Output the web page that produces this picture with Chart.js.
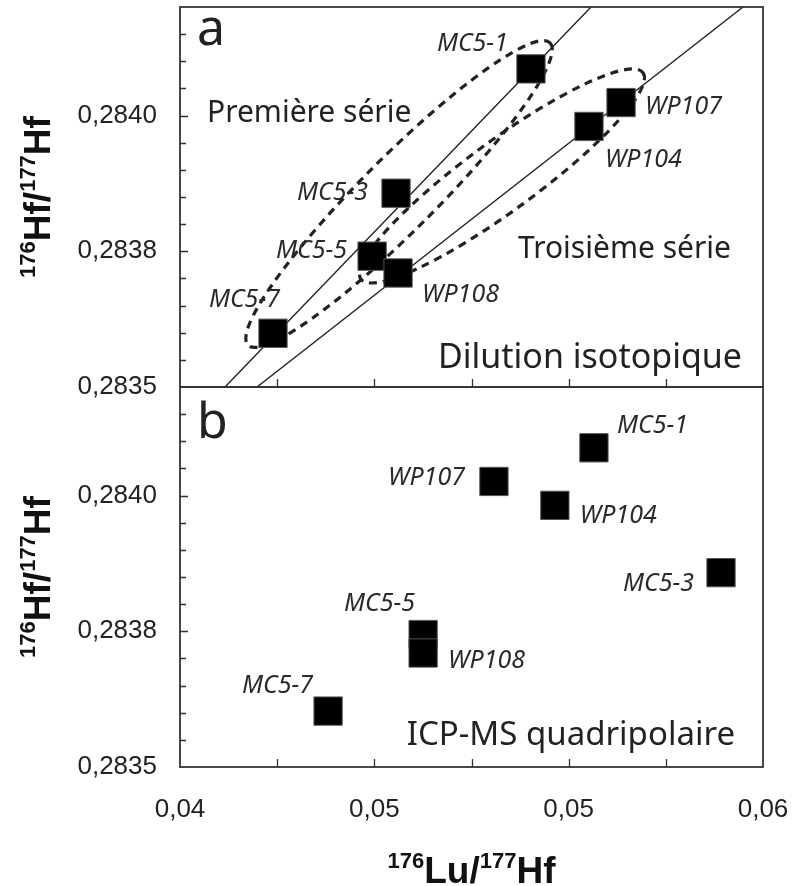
<!DOCTYPE html>
<html>
<head>
<meta charset="utf-8">
<script src="https://cdn.jsdelivr.net/npm/chart.js@4.4.1/dist/chart.umd.min.js"></script>
<style>
html,body{margin:0;padding:0;background:#fff;}
#wrap{position:relative;width:792px;height:886px;overflow:hidden;background:#fff;}
canvas{position:absolute;left:0;}
#cA{top:0;}
#cB{top:380px;}
</style>
</head>
<body>
<div id="wrap">
<canvas id="cB" width="792" height="506"></canvas>
<canvas id="cA" width="792" height="410"></canvas>
</div>
<script>
// ---------- data ----------
const sampleNames = ['MC5-1', 'MC5-3', 'MC5-5', 'MC5-7', 'WP104', 'WP107', 'WP108'];
// (a) Dilution isotopique
const diluLu = [0.05204, 0.04741, 0.04659, 0.04319, 0.05403, 0.05513, 0.04748];
const diluHf = [0.284086, 0.283857, 0.283741, 0.283599, 0.283980, 0.284024, 0.283710];
// (b) ICP-MS quadripolaire
const icpLu = [0.05420, 0.05856, 0.04834, 0.04508, 0.05286, 0.05077, 0.04834];
const icpHf = [0.284088, 0.283858, 0.283744, 0.283603, 0.283982, 0.284026, 0.283710];
// reference lines in panel a (end points)
const premiereLineLu = [0.041544, 0.054100];
const premiereLineHf = [0.2835, 0.2842];
const troisiemeLineLu = [0.042642, 0.059314];
const troisiemeLineHf = [0.2835, 0.2842];
// dashed envelopes in panel a (tips of the long axis)
const premiereEllipseLu = [0.042333, 0.052693];
const premiereEllipseHf = [0.283577, 0.284134];
const troisiemeEllipseLu = [0.046209, 0.055883];
const troisiemeEllipseHf = [0.2836985, 0.284079];
// axes
const xTickValues = [0.04, 0.0466667, 0.0533333, 0.06];
const xTickLabels = ['0,04', '0,05', '0,05', '0,06'];
const yTickValues = [0.2835, 0.28375, 0.2840];
const yTickLabels = ['0,2835', '0,2838', '0,2840'];
const xRange = [0.04, 0.06];
const yRange = [0.2835, 0.2842];

// ---------- styles ----------
const TICK_FONT = 'Liberation Sans';
const TEXT_FONT = 'Noto Sans';
const INK = '#222';
const labelStyleA = {
  'MC5-1': ['right', -23, -18], 'MC5-3': ['right', -28, 7], 'MC5-5': ['right', -25, 2],
  'MC5-7': ['right', 7, -26], 'WP104': ['left', 16, 41], 'WP107': ['left', 24, 11], 'WP108': ['left', 24, 29]
};
const labelStyleB = {
  'MC5-1': ['left', 23, -15], 'MC5-3': ['right', -27, 18], 'MC5-5': ['right', -8, -24],
  'MC5-7': ['right', -15, -18], 'WP104': ['left', 25, 18], 'WP107': ['right', -29, 4], 'WP108': ['left', 25, 15]
};

function drawComposite(ctx, parts, cx, baseline) {
  const mainF = 'bold 37px "' + TICK_FONT + '"';
  const supF = 'bold 22px "' + TICK_FONT + '"';
  let total = 0;
  parts.forEach(p => { ctx.font = p.sup ? supF : mainF; p.w = ctx.measureText(p.t).width; total += p.w; });
  let xx = cx - total / 2;
  ctx.textAlign = 'left';
  ctx.textBaseline = 'alphabetic';
  parts.forEach(p => {
    ctx.font = p.sup ? supF : mainF;
    ctx.fillText(p.t, xx, baseline - (p.sup ? 15 : 0));
    xx += p.w;
  });
}

function makeDeco(cfg) {
  return {
    id: 'deco',
    beforeDatasetsDraw(chart) {
      const {ctx, scales} = chart;
      const x = scales.x, y = scales.y;
      ctx.save();
      (cfg.ellipses || []).forEach(e => {
        const x1 = x.getPixelForValue(e.lu[0]), y1 = y.getPixelForValue(e.hf[0]);
        const x2 = x.getPixelForValue(e.lu[1]), y2 = y.getPixelForValue(e.hf[1]);
        const cx = (x1 + x2) / 2, cy = (y1 + y2) / 2;
        const a = Math.hypot(x2 - x1, y2 - y1) / 2;
        const ang = Math.atan2(y2 - y1, x2 - x1);
        ctx.beginPath();
        ctx.ellipse(cx, cy, a, a * e.ratio, ang, 0, Math.PI * 2);
        ctx.setLineDash([8, 6]);
        ctx.lineWidth = 3.2;
        ctx.strokeStyle = INK;
        ctx.stroke();
      });
      ctx.restore();
    },
    afterDatasetsDraw(chart) {
      const {ctx, chartArea: ca, scales} = chart;
      const x = scales.x, y = scales.y;
      ctx.save();
      // point labels
      ctx.fillStyle = '#2a2a2a';
      ctx.font = 'italic 25px "' + TEXT_FONT + '"';
      ctx.textBaseline = 'alphabetic';
      cfg.lu.forEach((v, i) => {
        const st = cfg.labelStyle[sampleNames[i]];
        const px = x.getPixelForValue(v), py = y.getPixelForValue(cfg.hf[i]);
        ctx.textAlign = st[0];
        ctx.fillText(sampleNames[i], px + st[1], py + st[2]);
      });
      // frame
      ctx.strokeStyle = '#333';
      ctx.lineWidth = 1.8;
      ctx.strokeRect(ca.left, ca.top, ca.right - ca.left, ca.bottom - ca.top);
      // inward ticks
      ctx.lineWidth = 1.3;
      ctx.beginPath();
      for (let i = 1; i < 14; i++) {
        const v = yRange[0] + i * 0.00005;
        const py = Math.round(y.getPixelForValue(v)) + 0.5;
        const major = yTickValues.some(t => Math.abs(t - v) < 1e-9);
        ctx.moveTo(ca.left, py);
        ctx.lineTo(ca.left + (major ? 8 : 6), py);
      }
      for (let i = 1; i < 6; i++) {
        const v = xRange[0] + i * (xRange[1] - xRange[0]) / 6;
        const px = Math.round(x.getPixelForValue(v)) + 0.5;
        ctx.moveTo(px, ca.bottom);
        ctx.lineTo(px, ca.bottom - 8);
      }
      ctx.stroke();
      // panel texts
      ctx.fillStyle = INK;
      cfg.texts.forEach(t => {
        ctx.font = t.size + 'px "' + TEXT_FONT + '"';
        ctx.textAlign = t.align;
        const tx = t.align === 'right' ? ca.right + t.dx : ca.left + t.dx;
        ctx.fillText(t.text, tx, ca.top + t.dy);
      });
      // y title
      ctx.fillStyle = '#111';
      ctx.save();
      ctx.translate(50, (ca.top + ca.bottom) / 2);
      ctx.rotate(-Math.PI / 2);
      drawComposite(ctx, [{t: '176', sup: true}, {t: 'Hf/'}, {t: '177', sup: true}, {t: 'Hf'}], 0, 0);
      ctx.restore();
      if (cfg.xTitle) {
        drawComposite(ctx, [{t: '176', sup: true}, {t: 'Lu/'}, {t: '177', sup: true}, {t: 'Hf'}],
          (ca.left + ca.right) / 2, ca.bottom + 116);
      }
      ctx.restore();
    }
  };
}

function makeChart(id, lu, hf, extra, cfg, isBottom) {
  const pts = lu.map((v, i) => ({x: v, y: hf[i]}));
  return new Chart(document.getElementById(id), {
    type: 'scatter',
    data: {
      datasets: [{
        data: pts, pointStyle: 'rect', pointRadius: 20, pointHoverRadius: 20,
        backgroundColor: '#000', borderColor: '#555', borderWidth: 1
      }].concat(extra)
    },
    options: {
      responsive: false, animation: false, events: [],
      layout: {autoPadding: false, padding: {top: 7, left: 0, right: 29, bottom: isBottom ? 0 : 23}},
      plugins: {legend: {display: false}, tooltip: {enabled: false}},
      scales: {
        x: {
          type: 'linear', min: xRange[0], max: xRange[1], display: isBottom,
          grid: {display: false, drawTicks: false}, border: {display: false},
          afterBuildTicks: s => { s.ticks = xTickValues.map(v => ({value: v})); },
          ticks: {
            autoSkip: false, maxRotation: 0, minRotation: 0, padding: 27, color: INK,
            font: {family: TICK_FONT, size: 26}, callback: (v, i) => xTickLabels[i]
          },
          afterFit: s => { s.height = isBottom ? 119 : 0; s.paddingLeft = 0; s.paddingRight = 0; }
        },
        y: {
          type: 'linear', min: yRange[0], max: yRange[1],
          grid: {display: false, drawTicks: false}, border: {display: false},
          afterBuildTicks: s => { s.ticks = yTickValues.map(v => ({value: v})); },
          ticks: {
            autoSkip: false, padding: 23, color: INK,
            font: {family: TICK_FONT, size: 26}, callback: (v, i) => yTickLabels[i]
          },
          afterFit: s => { s.width = 180; s.paddingTop = 0; s.paddingBottom = 0; }
        }
      }
    },
    plugins: [makeDeco(cfg)]
  });
}

const lineStyle = {showLine: true, pointRadius: 0, pointHoverRadius: 0, borderColor: INK, borderWidth: 1.4, backgroundColor: INK};

makeChart('cA', diluLu, diluHf, [
  Object.assign({data: premiereLineLu.map((v, i) => ({x: v, y: premiereLineHf[i]}))}, lineStyle),
  Object.assign({data: troisiemeLineLu.map((v, i) => ({x: v, y: troisiemeLineHf[i]}))}, lineStyle)
], {
  lu: diluLu, hf: diluHf, labelStyle: labelStyleA,
  ellipses: [
    {lu: premiereEllipseLu, hf: premiereEllipseHf, ratio: 0.173},
    {lu: troisiemeEllipseLu, hf: troisiemeEllipseHf, ratio: 0.2}
  ],
  texts: [
    {text: 'a', size: 50, align: 'left', dx: 17, dy: 38},
    {text: 'Première série', size: 30, align: 'left', dx: 27, dy: 115},
    {text: 'Troisième série', size: 30, align: 'left', dx: 338, dy: 251},
    {text: 'Dilution isotopique', size: 34, align: 'right', dx: -21, dy: 361}
  ],
  xTitle: false
}, false);

makeChart('cB', icpLu, icpHf, [], {
  lu: icpLu, hf: icpHf, labelStyle: labelStyleB, ellipses: [],
  texts: [
    {text: 'b', size: 50, align: 'left', dx: 17, dy: 51},
    {text: 'ICP-MS quadripolaire', size: 33, align: 'right', dx: -28, dy: 358}
  ],
  xTitle: true
}, true);
</script>
</body>
</html>
